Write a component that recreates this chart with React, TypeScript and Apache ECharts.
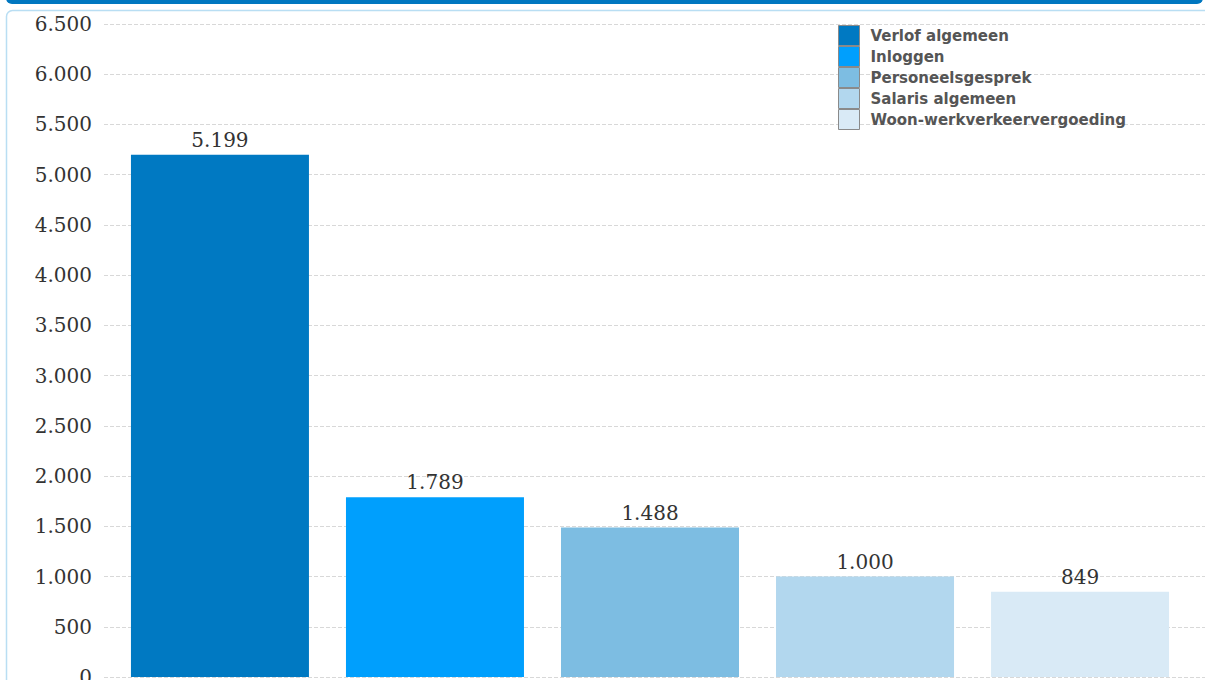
import React, { useEffect, useRef } from "react";
import * as echarts from "echarts";

const categories = ["Verlof algemeen", "Inloggen", "Personeelsgesprek", "Salaris algemeen", "Woon-werkverkeervergoeding"];
const values = [5199, 1789, 1488, 1000, 849];
const colors = ["#0079c2", "#009ffd", "#7dbde2", "#b2d7ee", "#d9eaf6"];
const yMin = 0;
const yMax = 6500;
const yInterval = 500;

const fmt = (v: number) => v.toLocaleString("nl-NL");

export default function App() {
  const ref = useRef<HTMLDivElement>(null);
  useEffect(() => {
    if (!ref.current) return;
    const chart = echarts.init(ref.current, null, { renderer: "svg" });
    const serif = "DejaVu Serif";
    const option: any = {
      animation: false,
      backgroundColor: "#ffffff",
      graphic: [
        { type: "rect", shape: { x: 6, y: -10, width: 1197, height: 14, r: 6 }, style: { fill: "#0077c0" }, z: 10 },
        { type: "rect", shape: { x: 6.5, y: 10.5, width: 1210, height: 700, r: 6 }, style: { fill: "none", stroke: "#b9def3", lineWidth: 1.5 }, z: 10 },
      ],
      legend: {
        orient: "vertical",
        left: 838,
        top: 25,
        padding: 0,
        itemWidth: 21,
        itemHeight: 20,
        itemGap: 0,
        icon: "rect",
        itemStyle: { borderColor: "#8a8a8a", borderWidth: 1 },
        textStyle: { fontFamily: "DejaVu Sans", fontWeight: "bold", fontSize: 15, lineHeight: 20, color: "#555555", padding: [0, 0, 0, 6] },
        data: categories,
      },
      grid: [
        { left: 104, right: 0, top: 24, bottom: 3, outerBoundsMode: "none" },
        { left: 104, right: 9, top: 24, bottom: 3, outerBoundsMode: "none" },
      ],
      xAxis: [
        { type: "category", gridIndex: 0, data: [""], show: false },
        { type: "category", gridIndex: 1, data: [""], show: false },
      ],
      yAxis: [
        {
          type: "value",
          gridIndex: 0,
          min: yMin,
          max: yMax,
          interval: yInterval,
          axisLine: { show: false },
          axisTick: { show: false },
          axisLabel: { fontFamily: serif, fontSize: 20, color: "#333333", margin: 12, formatter: (v: number) => fmt(v) },
          splitLine: { lineStyle: { color: "#d8d8d8", type: [4, 2], width: 1 } },
        },
        {
          type: "value",
          gridIndex: 1,
          min: yMin,
          max: yMax,
          interval: yInterval,
          show: false,
          splitLine: { show: false },
        },
      ],
      series: categories.map((name, i) => ({
        name,
        type: "bar",
        xAxisIndex: 1,
        yAxisIndex: 1,
        data: [values[i]],
        barWidth: 178,
        barGap: "20.8%",
        itemStyle: { color: colors[i] },
        label: {
          show: true,
          position: "top",
          distance: 5,
          fontFamily: serif,
          fontSize: 20,
          color: "#333333",
          formatter: (p: any) => fmt(p.value),
        },
      })),
    };
    chart.setOption(option);
    return () => chart.dispose();
  }, []);
  return <div ref={ref} style={{ position: "absolute", left: 0, top: 0, width: 1205, height: 680 }} />;
}
